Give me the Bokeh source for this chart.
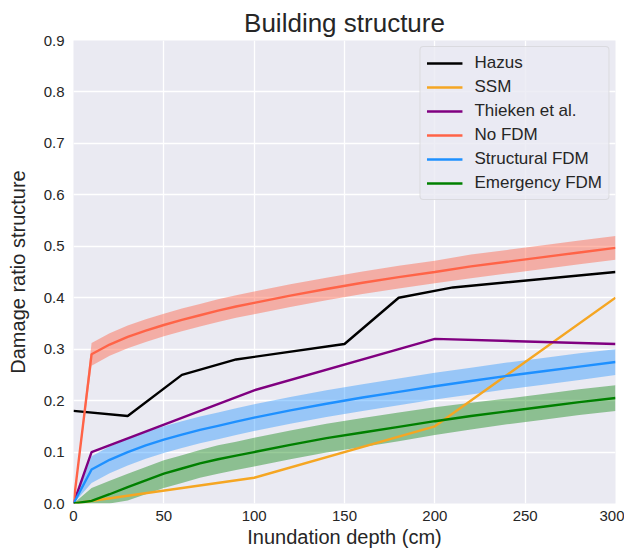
from bokeh.plotting import figure
from bokeh.models import Range1d, FixedTicker, Legend, LegendItem, NumeralTickFormatter
from bokeh.embed import file_html
from bokeh.resources import INLINE

# Data
depth = [0, 10, 20, 30, 40, 50, 60, 70, 80, 90, 100, 120, 140, 160, 180, 200, 220, 240, 260, 280, 300]

nofdm = [0.0, 0.290, 0.309, 0.324, 0.336, 0.347, 0.357, 0.366, 0.375, 0.383, 0.390, 0.404, 0.417, 0.429, 0.440, 0.450, 0.461, 0.470, 0.479, 0.488, 0.497]
nofdm_lo = [0.0, 0.268, 0.287, 0.302, 0.314, 0.325, 0.335, 0.344, 0.353, 0.361, 0.368, 0.382, 0.395, 0.407, 0.418, 0.428, 0.438, 0.447, 0.456, 0.465, 0.474]
nofdm_hi = [0.0, 0.312, 0.331, 0.346, 0.358, 0.369, 0.379, 0.388, 0.397, 0.405, 0.412, 0.426, 0.439, 0.451, 0.462, 0.472, 0.484, 0.493, 0.502, 0.511, 0.520]

struct = [0.0, 0.066, 0.085, 0.100, 0.113, 0.124, 0.134, 0.143, 0.151, 0.159, 0.167, 0.181, 0.194, 0.206, 0.217, 0.228, 0.238, 0.248, 0.257, 0.266, 0.275]
struct_lo = [0.0, 0.040, 0.059, 0.074, 0.087, 0.098, 0.108, 0.117, 0.125, 0.133, 0.141, 0.155, 0.168, 0.180, 0.191, 0.202, 0.212, 0.222, 0.231, 0.240, 0.250]
struct_hi = [0.0, 0.092, 0.111, 0.126, 0.139, 0.150, 0.160, 0.169, 0.177, 0.185, 0.193, 0.207, 0.220, 0.232, 0.243, 0.254, 0.264, 0.274, 0.283, 0.292, 0.300]

emerg = [0.0, 0.005, 0.018, 0.032, 0.045, 0.058, 0.068, 0.078, 0.086, 0.093, 0.100, 0.114, 0.127, 0.138, 0.149, 0.160, 0.170, 0.179, 0.188, 0.197, 0.205]
emerg_lo = [0.0, 0.0, 0.0, 0.006, 0.018, 0.030, 0.040, 0.050, 0.058, 0.065, 0.072, 0.086, 0.099, 0.110, 0.121, 0.133, 0.144, 0.154, 0.163, 0.172, 0.180]
emerg_hi = [0.0, 0.030, 0.044, 0.058, 0.071, 0.084, 0.094, 0.104, 0.113, 0.120, 0.128, 0.142, 0.155, 0.166, 0.177, 0.187, 0.196, 0.204, 0.213, 0.222, 0.230]

hazus_x = [0, 30, 60, 90, 150, 180, 210, 300]
hazus_y = [0.18, 0.17, 0.25, 0.28, 0.31, 0.40, 0.42, 0.45]

ssm_x = [0, 30, 100, 200, 300]
ssm_y = [0.0, 0.015, 0.05, 0.15, 0.40]

thieken_x = [0, 10, 100, 200, 300]
thieken_y = [0.0, 0.10, 0.22, 0.32, 0.31]

x_ticks = [0, 50, 100, 150, 200, 250, 300]
y_ticks = [0.0, 0.1, 0.2, 0.3, 0.4, 0.5, 0.6, 0.7, 0.8, 0.9]

FONT = "Liberation Sans"
TXT = "#262626"

p = figure(width=624, height=552, output_backend="svg", toolbar_location=None,
           x_range=Range1d(0, 300), y_range=Range1d(0, 0.9),
           background_fill_color="#eaeaf2", border_fill_color="white",
           min_border_left=73, min_border_right=9, min_border_bottom=49, min_border_top=40)
p.outline_line_color = None

p.title.text = "Building structure"
p.title.align = "center"
p.title.text_font = FONT
p.title.text_font_size = "26px"
p.title.text_font_style = "normal"
p.title.text_color = TXT
p.title.standoff = 6

p.grid.grid_line_color = "white"
p.grid.grid_line_width = 1.3
p.xaxis.ticker = FixedTicker(ticks=x_ticks)
p.yaxis.ticker = FixedTicker(ticks=y_ticks)
p.yaxis.formatter = NumeralTickFormatter(format="0.0")
for ax in (p.xaxis, p.yaxis):
    ax.axis_line_color = None
    ax.major_tick_line_color = None
    ax.minor_tick_line_color = None
    ax.major_tick_out = 0
    ax.major_tick_in = 0
    ax.minor_tick_out = 0
    ax.minor_tick_in = 0
    ax.major_label_text_font = FONT
    ax.major_label_text_font_size = "15px"
    ax.major_label_text_color = TXT
    ax.axis_label_text_font = FONT
    ax.axis_label_text_font_size = "20px"
    ax.axis_label_text_font_style = "normal"
    ax.axis_label_text_color = TXT
p.xaxis.axis_label = "Inundation depth (cm)"
p.yaxis.axis_label = "Damage ratio structure"
p.xaxis.major_label_standoff = 7
p.yaxis.major_label_standoff = 9
p.xaxis.axis_label_standoff = 2
p.yaxis.axis_label_standoff = 12

# bands
p.varea(x=depth, y1=nofdm_lo, y2=nofdm_hi, fill_color="#ff6347", fill_alpha=0.45)
p.varea(x=depth, y1=struct_lo, y2=struct_hi, fill_color="#1e90ff", fill_alpha=0.4)
p.varea(x=depth, y1=emerg_lo, y2=emerg_hi, fill_color="#008000", fill_alpha=0.4)

lw = 2.4
r_h = p.line(hazus_x, hazus_y, line_color="black", line_width=lw)
r_s = p.line(ssm_x, ssm_y, line_color="#f5a623", line_width=lw)
r_t = p.line(thieken_x, thieken_y, line_color="#800080", line_width=lw)
r_n = p.line(depth, nofdm, line_color="#ff6347", line_width=lw)
r_b = p.line(depth, struct, line_color="#1e90ff", line_width=lw)
r_e = p.line(depth, emerg, line_color="#008000", line_width=lw)

legend = Legend(items=[
    LegendItem(label="Hazus", renderers=[r_h]),
    LegendItem(label="SSM", renderers=[r_s]),
    LegendItem(label="Thieken et al.", renderers=[r_t]),
    LegendItem(label="No FDM", renderers=[r_n]),
    LegendItem(label="Structural FDM", renderers=[r_b]),
    LegendItem(label="Emergency FDM", renderers=[r_e]),
], location="top_right")
legend.label_text_font = FONT
legend.label_text_font_size = "17px"
legend.label_text_color = TXT
legend.background_fill_color = "#eaeaf2"
legend.background_fill_alpha = 0.8
legend.border_line_color = "#cccccc"
legend.border_radius = 4
legend.glyph_width = 36
legend.glyph_height = 20
legend.label_height = 20
legend.spacing = 4
legend.padding = 6
legend.margin = 6
legend.label_standoff = 12
p.add_layout(legend)

open("out.html", "w").write(file_html(p, INLINE))
